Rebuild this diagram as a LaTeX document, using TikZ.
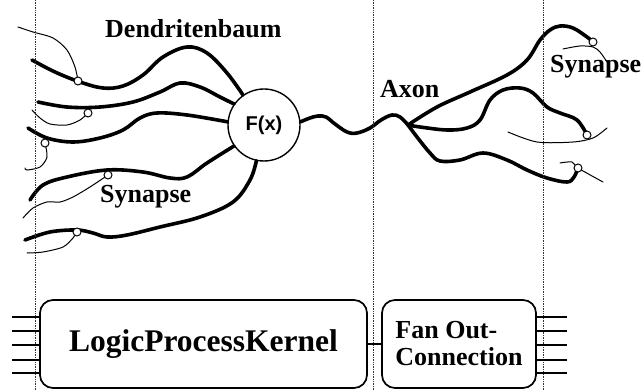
\documentclass[tikz,border=0pt]{standalone}
\usepackage{fontspec}
\setmainfont{Liberation Serif}
\newfontfamily\fxfont{Liberation Sans}
\usetikzlibrary{calc,backgrounds}
\begin{document}
\begin{tikzpicture}[x=1pt,y=-1pt,
  guide/.style={densely dotted,line width=0.7pt,black!80},
  fiber/.style={line width=3.6pt,line cap=round,line join=round},
  wire/.style={line width=1pt,line cap=round},
  syn/.style={circle,draw,fill=white,line width=1pt,minimum size=8pt,inner sep=0pt},
  soma/.style={circle,draw,line width=1.4pt,minimum size=72pt,inner sep=0pt,
    font=\fxfont\bfseries\fontsize{20}{21}\selectfont},
  lbl/.style={anchor=base west,inner sep=0pt,font=\bfseries\fontsize{26}{27}\selectfont},
  unit/.style={draw,line width=1.7pt,rounded corners=13pt,inner sep=0pt},
  pin/.style={line width=2pt}]
\useasboundingbox (0,0) rectangle (642,390);

% layer guides
\foreach \gx in {35,373,543}
  \draw[guide] (\gx,0) -- (\gx,390);

% cell body and synapses
\node[soma] (fx) at (264,125) {F(x)};
\node[syn] (s1) at (78,81) {};
\node[syn] (s2) at (88,113) {};
\node[syn] (s3) at (45,143) {};
\node[syn] (s4) at (108,175) {};
\node[syn] (s5) at (77,232) {};
\node[syn] (sa) at (593,42) {};
\node[syn] (sb) at (587,135) {};
\node[syn] (sc) at (578,168) {};
\coordinate (br) at (408,125);

\begin{scope}[on background layer]
% dendrites
\draw[fiber] plot[smooth,tension=0.6] coordinates {(32,60) (55,72) (80,82) (103,88) (123,86) (143,75) (163,57) (187,47) (207,53) (227,73) (fx.125)};
\draw[fiber] plot[smooth,tension=0.6] coordinates {(38,102) (67,107) (100,107) (133,102) (160,92) (180,83) (200,87) (220,97) (fx.145)};
\draw[fiber] plot[smooth,tension=0.6] coordinates {(28,128) (47,138) (73,142) (100,138) (123,130) (140,118) (157,113) (187,115) (fx.175)};
\draw[fiber] plot[smooth,tension=0.6] coordinates {(30,200) (43,185) (67,177) (107,170) (143,172) (170,178) (187,177) (207,163) (fx.215)};
\draw[fiber] plot[smooth,tension=0.6] coordinates {(25,240) (50,232) (77,230) (93,233) (107,237) (127,235) (160,227) (200,217) (233,202) (250,180) (fx.258)};
% axon and its branches
\draw[fiber] plot[smooth,tension=0.6] coordinates {(fx.5) (310,118) (318,116) (326,117) (335,124) (347,132) (357,133) (370,128) (381,120) (392,115) (400,117) (br)};
\draw[fiber] plot[smooth,tension=0.6] coordinates {(br) (437,107) (470,92) (507,75) (527,60) (540,40) (550,30) (560,26) (573,28) (587,37) (sa)};
\draw[fiber] plot[smooth,tension=0.6] coordinates {(br) (420,127) (447,130) (467,128) (480,120) (490,100) (503,90) (520,88) (533,93) (547,107) (560,113) (577,120) (sb)};
\draw[fiber] plot[smooth,tension=0.6] coordinates {(br) (417,137) (430,153) (440,161) (460,160) (483,153) (507,160) (527,170) (547,178) (567,182) (574,177) (sc)};
% incoming and outgoing thin wires
\draw[wire] plot[smooth] coordinates {(18,27) (33,32) (53,38) (67,50) (75,67) (s1)};
\draw[wire] plot[smooth] coordinates {(32,110) (40,118) (50,124) (67,125) (80,120) (s2)};
\draw[wire] plot[smooth] coordinates {(s3) (47,157) (40,167) (27,170) (25,168)};
\draw[wire] plot[smooth] coordinates {(23,218) (33,208) (47,202) (60,202) (73,197) (90,187) (s4)};
\draw[wire] plot[smooth] coordinates {(27,253) (43,252) (63,247) (73,238) (s5)};
\draw[wire] plot[smooth] coordinates {(563,49) (580,46) (593,47) (600,52) (607,62)};
\draw[wire] plot[smooth] coordinates {(508,132) (537,142) (573,142) (593,138) (607,128)};
\draw[wire] plot[smooth] coordinates {(560,163) (572,162) (sc) (603,182)};
\end{scope}

% labels
\node[lbl] (tdend) at (105,38) {Dendritenbaum};
\node[lbl] (tsyn1) at (100,203) {Synapse};
\node[lbl] (taxon) at (380,98) {Axon};
\node[lbl] (tsyn2) at (550,73) {Synapse};

% functional blocks
\node[unit,minimum width=327pt,minimum height=88pt,
  font=\bfseries\fontsize{31.5}{32}\selectfont] (kern) at (203.5,344) {LogicProcessKernel};
\node[unit,minimum width=154pt,minimum height=88pt,align=left,
  font=\bfseries\fontsize{26}{27}\selectfont] (fan) at (459,344) {Fan Out-\\Connection};
\draw[pin] (kern.east) -- (fan.west);
\foreach \d in {-27,-13,1,16,29} {
  \draw[pin] ($(kern.west)+(0,\d)$) -- ++(-27,0);
  \draw[pin] ($(fan.east)+(0,\d)$) -- ++(30,0);
}
\end{tikzpicture}
\end{document}
